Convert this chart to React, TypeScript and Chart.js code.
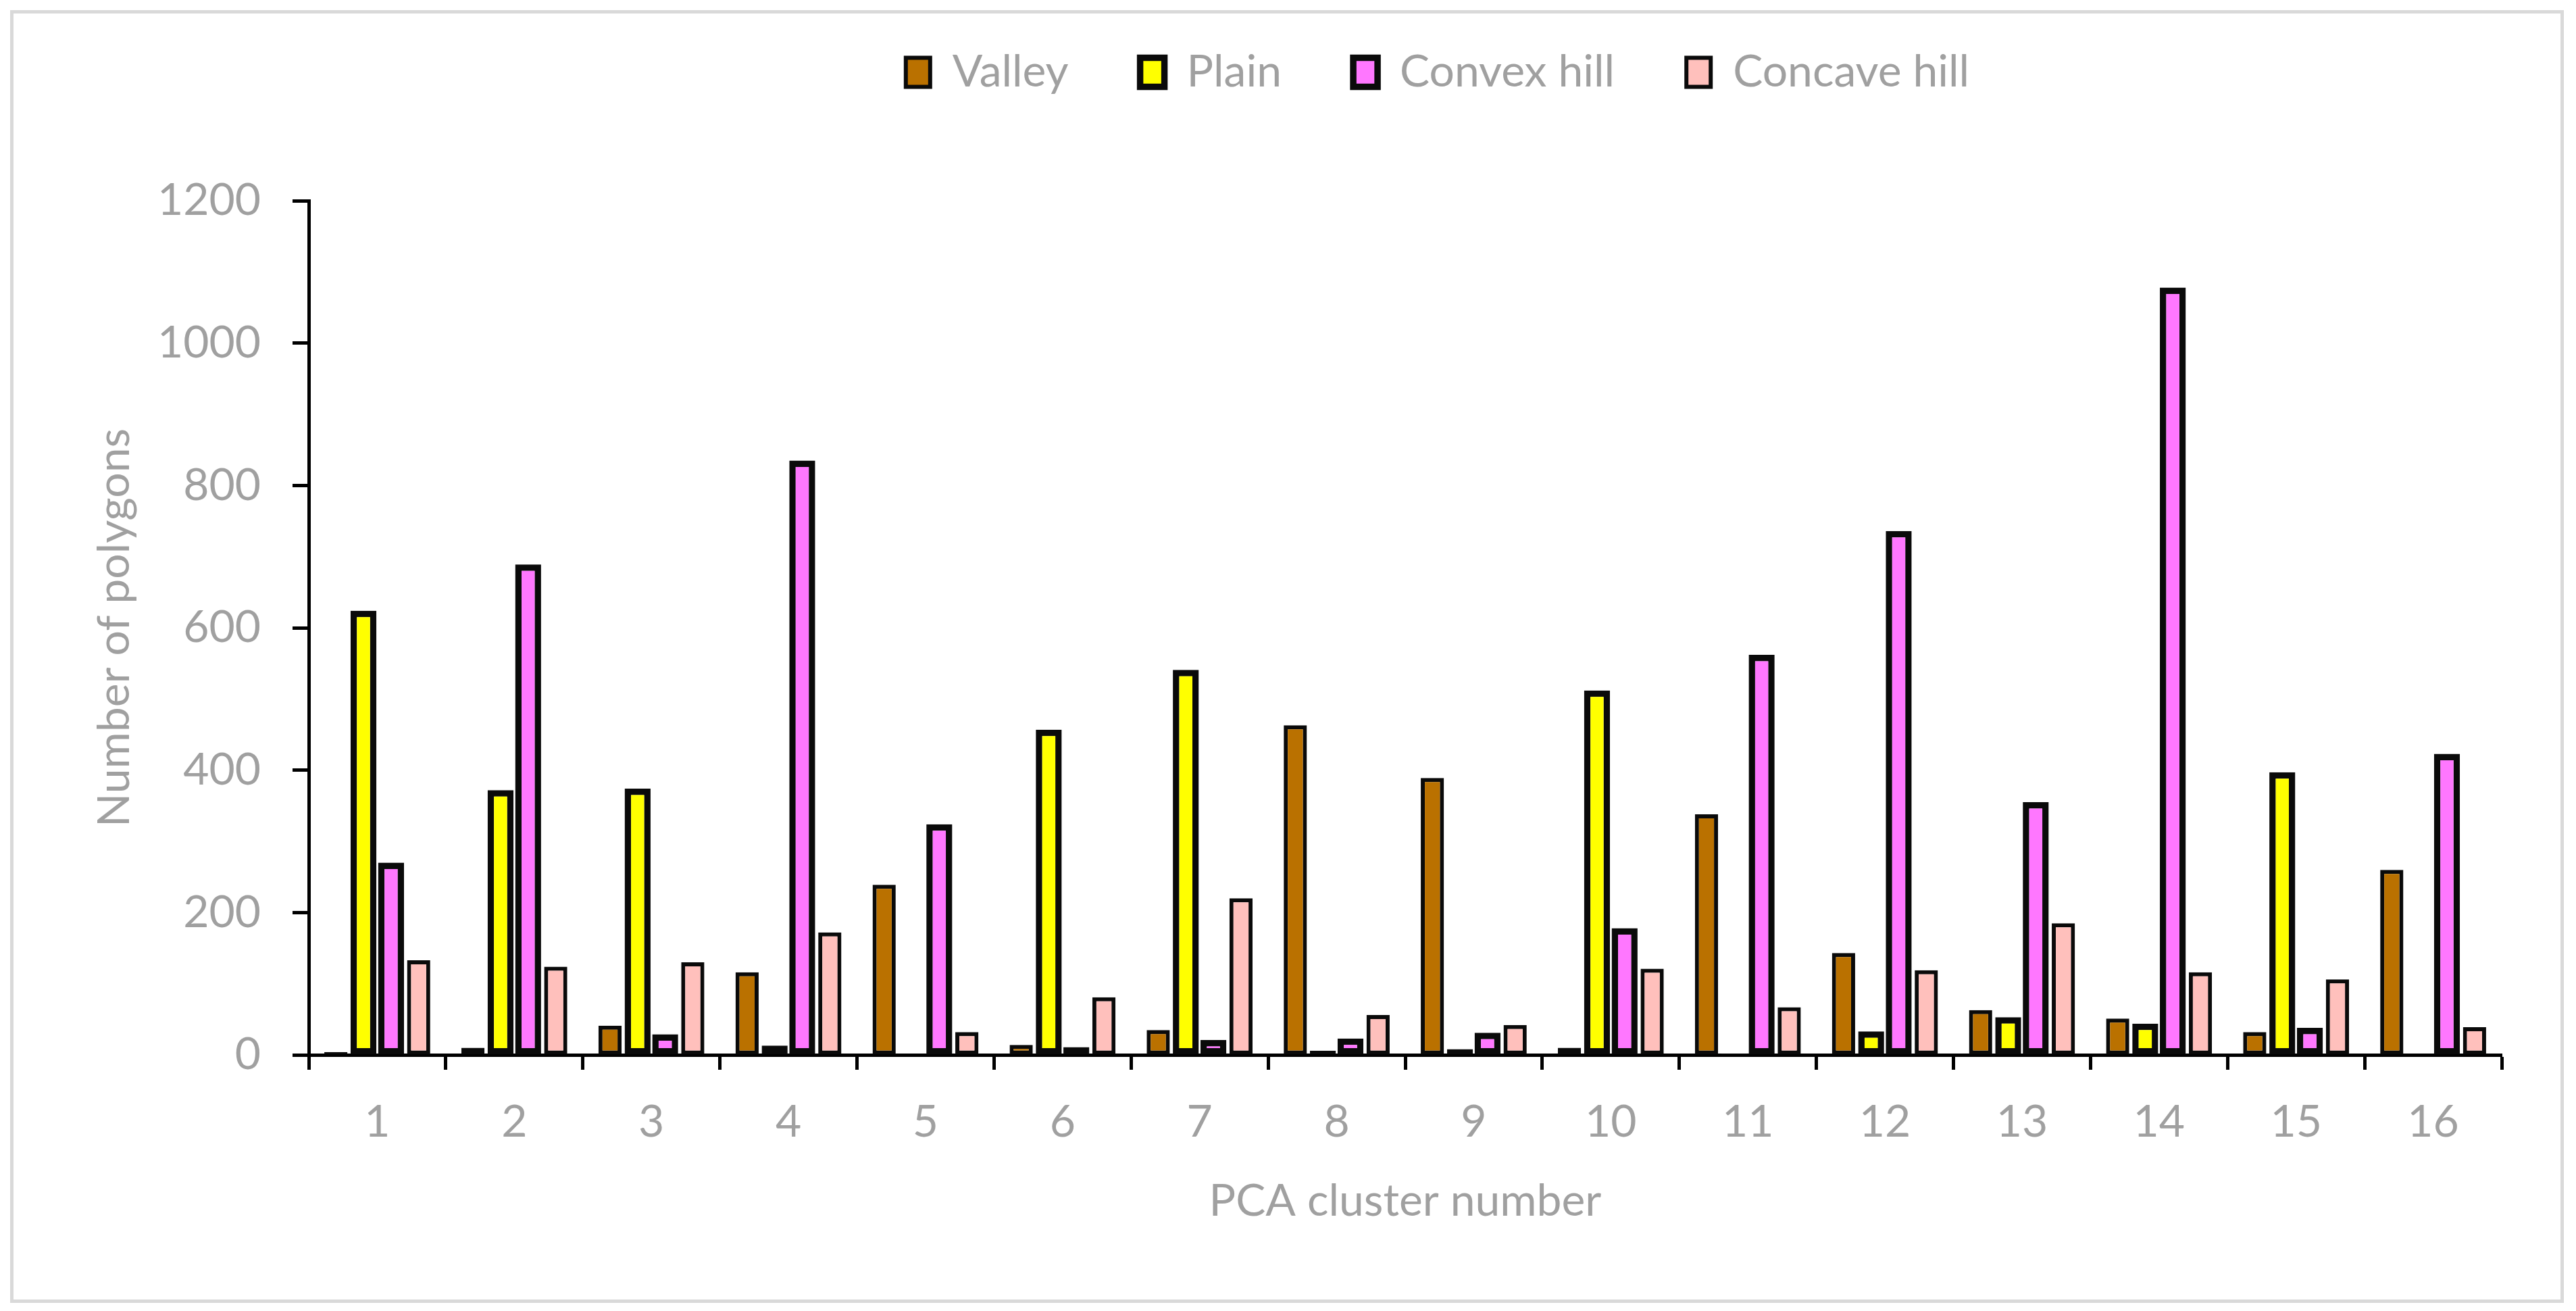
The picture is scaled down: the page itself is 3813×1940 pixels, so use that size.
import { useEffect, useRef } from 'react'
import { Chart, registerables, type ChartConfiguration, type Plugin } from 'chart.js'

Chart.register(...registerables)

const clusters = ['1', '2', '3', '4', '5', '6', '7', '8', '9', '10', '11', '12', '13', '14', '15', '16']

const valley = [4, 10, 41, 116, 239, 14, 35, 463, 389, 10, 338, 143, 63, 51, 32, 260]
const plain = [624, 372, 374, 13, 0, 457, 541, 6, 8, 512, 2, 33, 53, 44, 397, 0]
const convexHill = [270, 689, 29, 835, 324, 11, 21, 23, 31, 178, 562, 736, 355, 1078, 38, 423]
const concaveHill = [133, 124, 130, 172, 32, 81, 220, 56, 42, 121, 67, 119, 185, 116, 106, 39]

const yTicks = [0, 200, 400, 600, 800, 1000, 1200]

const GREY = '#a0a0a0'
const FONT = 'Lato, "Open Sans", sans-serif'
const SIZE = 66

// legend sits right of the canvas centre in the original, move it there
const LEGEND_CX = 2108
const LEGEND_CY = 87

const legendShift: Plugin<'bar'> = {
  id: 'legendShift',
  afterLayout(chart) {
    const lg = chart.legend as any
    if (!lg) return
    const labels = lg.options.labels
    const itemH = Math.max(labels.font?.size ?? SIZE, labels.boxHeight ?? SIZE)
    const dx = LEGEND_CX - (lg.left + lg.right) / 2
    const dy = LEGEND_CY - (lg.top + labels.padding + itemH / 2)
    lg.left += dx
    lg.right += dx
    lg.top += dy
    lg.bottom += dy
  },
}

export default function App() {
  const chartRef = useRef<HTMLCanvasElement>(null)
  const chartInstance = useRef<Chart | null>(null)

  useEffect(() => {
    if (!chartRef.current) return
    chartInstance.current?.destroy()
    const ctx = chartRef.current.getContext('2d')
    if (!ctx) return

    const thin = { borderColor: '#0a0a0a', borderWidth: 6, barPercentage: 0.84, borderSkipped: false as const }
    const thick = { borderColor: '#0a0a0a', borderWidth: 9.5, barPercentage: 0.94, borderSkipped: false as const }

    const config: ChartConfiguration<'bar'> = {
      type: 'bar',
      data: {
        labels: clusters,
        datasets: [
          { label: 'Valley', data: valley, backgroundColor: '#ba7100', ...thin },
          { label: 'Plain', data: plain, backgroundColor: '#ffff00', ...thick },
          { label: 'Convex hill', data: convexHill, backgroundColor: '#ff77ff', ...thick },
          { label: 'Concave hill', data: concaveHill, backgroundColor: '#ffc0bc', ...thin },
        ],
      },
      options: {
        animation: false,
        responsive: true,
        maintainAspectRatio: false,
        events: [],
        layout: { padding: { top: 95, right: 87, bottom: 0, left: 0 } },
        datasets: { bar: { categoryPercentage: 0.805 } },
        scales: {
          x: {
            type: 'category',
            offset: true,
            afterFit: (scale) => { scale.height = 362 },
            border: { display: true, color: '#000', width: 5 },
            grid: {
              offset: true,
              drawOnChartArea: false,
              drawTicks: true,
              tickLength: 22,
              tickWidth: 5,
              tickColor: '#000',
            },
            ticks: { color: GREY, font: { family: FONT, size: SIZE }, padding: 38, maxRotation: 0 },
            title: {
              display: true,
              text: 'PCA cluster number',
              color: GREY,
              font: { family: FONT, size: SIZE },
              padding: { top: 0, bottom: 106 },
            },
          },
          y: {
            min: 0,
            max: 1200,
            afterFit: (scale) => { scale.width = 437 },
            afterBuildTicks: (scale) => { scale.ticks = yTicks.map(v => ({ value: v })) },
            border: { display: true, color: '#000', width: 5 },
            grid: {
              drawOnChartArea: false,
              drawTicks: true,
              tickLength: 24,
              tickWidth: 5,
              tickColor: '#000',
            },
            ticks: {
              color: GREY,
              font: { family: FONT, size: SIZE },
              padding: 47,
              callback: (value) => String(value),
            },
            title: {
              display: true,
              text: 'Number of polygons',
              color: GREY,
              font: { family: FONT, size: SIZE },
              padding: { top: 110, bottom: 0 },
            },
          },
        },
        plugins: {
          tooltip: { enabled: false },
          legend: {
            position: 'top',
            labels: {
              color: GREY,
              font: { family: FONT, size: SIZE },
              boxWidth: 36,
              boxHeight: 43,
              padding: 106,
            },
          },
        },
      },
      plugins: [legendShift],
    }

    chartInstance.current = new Chart(ctx, config)
    return () => {
      chartInstance.current?.destroy()
    }
  }, [])

  return (
    <div
      style={{
        position: 'absolute',
        left: 15,
        top: 15,
        width: 3780,
        height: 1913,
        border: '5px solid #d9d9d9',
        boxSizing: 'border-box',
        background: '#fff',
      }}
    >
      <div style={{ position: 'relative', width: '100%', height: '100%' }}>
        <canvas ref={chartRef} />
      </div>
    </div>
  )
}
